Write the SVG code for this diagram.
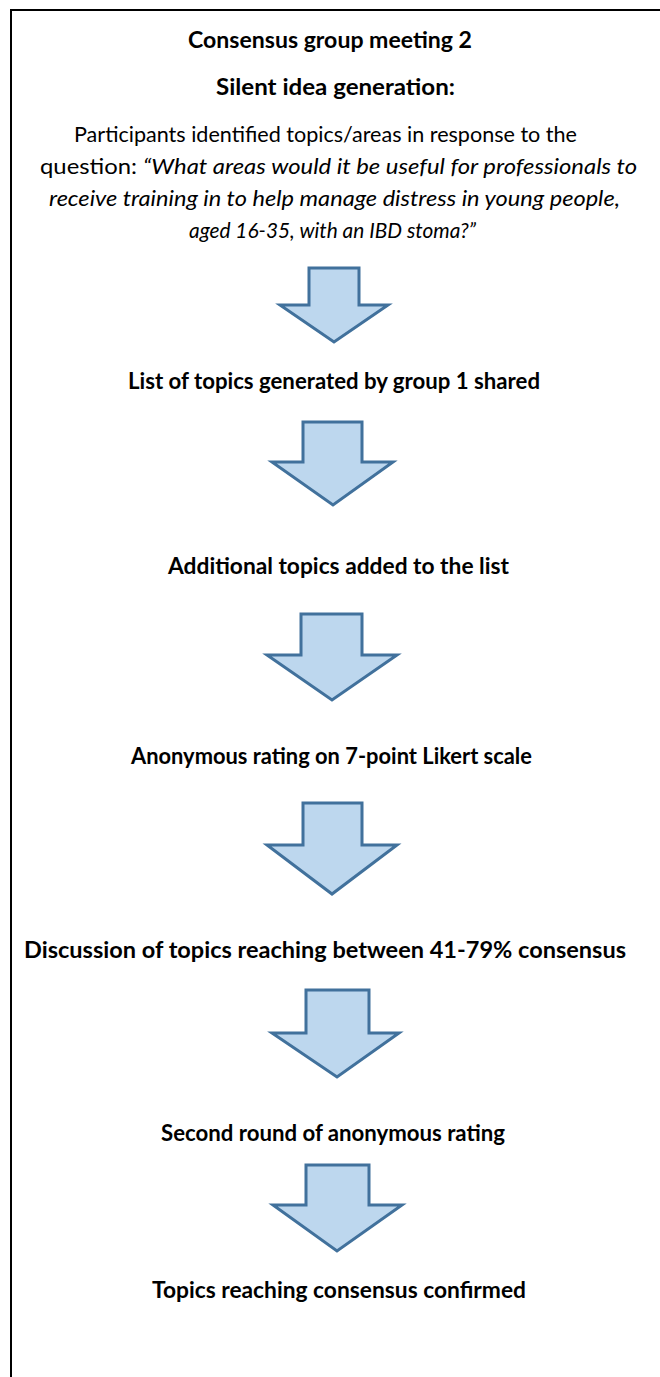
<svg xmlns="http://www.w3.org/2000/svg" width="660" height="1377" viewBox="0 0 660 1377">
<style>
.t{font-family:Lato,"Open Sans","Liberation Sans",sans-serif;fill:#000;text-anchor:middle}
.b{font-weight:bold;font-size:22.5px}
.r{font-size:21.5px}
.i{font-style:italic}
.arr{fill:#bdd7ee;stroke:#41719c;stroke-width:3;stroke-linejoin:miter}
</style>
<rect width="660" height="1377" fill="#fff"/>
<g id="frame"><path d="M11,1377 V10 H660" fill="none" stroke="#000" stroke-width="2"/></g>
<g id="n0"><text class="t b" x="330" y="48" textLength="284" lengthAdjust="spacingAndGlyphs">Consensus group meeting 2</text></g>
<g id="n1">
<text class="t b" x="335.5" y="95" textLength="239" lengthAdjust="spacingAndGlyphs">Silent idea generation:</text>
<text class="t r" x="325.5" y="142" textLength="503" lengthAdjust="spacingAndGlyphs">Participants identified topics/areas in response to the</text>
<text class="t r" x="338.5" y="174" textLength="597" lengthAdjust="spacingAndGlyphs">question: <tspan class="i">“What areas would it be useful for professionals to</tspan></text>
<text class="t r i" x="334.5" y="206" textLength="571" lengthAdjust="spacingAndGlyphs">receive training in to help manage distress in young people,</text>
<text class="t r i" x="332.5" y="238" textLength="287" lengthAdjust="spacingAndGlyphs">aged 16-35, with an IBD stoma?”</text>
</g>
<g id="n2"><text class="t b" x="334" y="389" textLength="412" lengthAdjust="spacingAndGlyphs">List of topics generated by group 1 shared</text></g>
<g id="n3"><text class="t b" x="338.5" y="574" textLength="341" lengthAdjust="spacingAndGlyphs">Additional topics added to the list</text></g>
<g id="n4"><text class="t b" x="331.5" y="764" textLength="401" lengthAdjust="spacingAndGlyphs">Anonymous rating on 7-point Likert scale</text></g>
<g id="n5"><text class="t b" x="325" y="958" textLength="602" lengthAdjust="spacingAndGlyphs">Discussion of topics reaching between 41-79% consensus</text></g>
<g id="n6"><text class="t b" x="333" y="1141" textLength="344" lengthAdjust="spacingAndGlyphs">Second round of anonymous rating</text></g>
<g id="n7"><text class="t b" x="339" y="1298" textLength="374" lengthAdjust="spacingAndGlyphs">Topics reaching consensus confirmed</text></g>
<g id="connectors">
<path class="arr" d="M309,268 H359 V305 H388 L334,342 L280,305 H309 Z"/>
<path class="arr" d="M303,422 H362 V462 H393 L333,505 L272,462 H303 Z"/>
<path class="arr" d="M301,614 H362 V655 H397 L332,700 L267,655 H301 Z"/>
<path class="arr" d="M303,803 H362 V845 H397 L332,894 L267,845 H303 Z"/>
<path class="arr" d="M306,990 H369 V1033 H399 L337,1077 L272,1033 H306 Z"/>
<path class="arr" d="M306,1165 H369 V1205 H402 L337,1251 L273,1205 H306 Z"/>
</g>
</svg>
